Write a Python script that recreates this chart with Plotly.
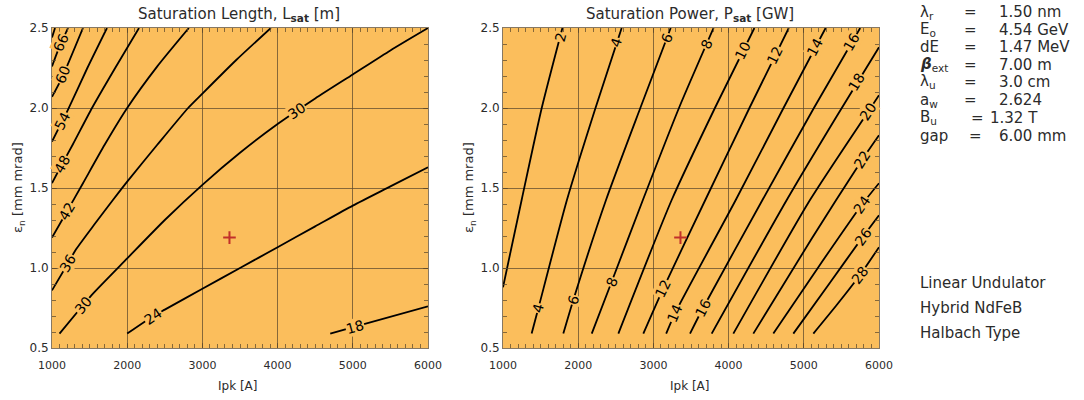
import math
import plotly.graph_objects as go

# ---------------- data ----------------
# Left panel: saturation length contours, Ipk [A] vs normalized emittance [mm mrad]
len72_ipk = [1000, 1040]
len72_emit = [2.44, 2.50]
len66_ipk = [1000, 1080, 1213]
len66_emit = [2.26, 2.36, 2.50]
len60_ipk = [1000, 1129, 1412]
len60_emit = [2.07, 2.185, 2.50]
len54_ipk = [1000, 1106, 1213, 1470, 1731]
len54_emit = [1.79, 1.89, 1.99, 2.25, 2.50]
len48_ipk = [1000, 1106, 1280, 1532, 1840, 2157]
len48_emit = [1.53, 1.625, 1.775, 2.00, 2.25, 2.50]
len42_ipk = [1000, 1195, 1412, 1700, 2000, 2400, 2820]
len42_emit = [1.19, 1.35, 1.53, 1.77, 2.00, 2.26, 2.50]
len36_ipk = [1000, 1213, 1310, 1560, 1810, 2000, 2400, 2810, 3000, 3450, 3910]
len36_emit = [0.86, 1.03, 1.11, 1.27, 1.425, 1.54, 1.77, 2.00, 2.09, 2.30, 2.50]
len30_ipk = [1100, 1417, 1545, 2000, 2500, 3000, 3500, 4000, 4500, 5000, 5500, 6000]
len30_emit = [0.59, 0.77, 0.84, 1.06, 1.30, 1.52, 1.72, 1.90, 2.06, 2.21, 2.36, 2.50]
len24_ipk = [2000, 2348, 2500, 3000, 3500, 4000, 4500, 5000, 5500, 6000]
len24_emit = [0.59, 0.70, 0.74, 0.87, 1.00, 1.13, 1.26, 1.39, 1.51, 1.63]
len18_ipk = [4700, 5029, 6000]
len18_emit = [0.59, 0.633, 0.76]

len_levels = [72, 66, 60, 54, 48, 42, 36, 30, 24, 18]
len_label_text = ["66", "60", "54", "48", "42", "36", "30", "30", "24", "18"]
len_label_ipk = [1125, 1150, 1135, 1135, 1200, 1213, 1417, 4254, 2348, 5029]
len_label_emit = [2.41, 2.21, 1.92, 1.65, 1.355, 1.03, 0.77, 1.98, 0.70, 0.633]

# Right panel: saturation power contours [GW]
pow2_ipk = [1000, 1250, 1515, 1790]
pow2_emit = [0.88, 1.43, 2.00, 2.50]
pow4_ipk = [1381, 1470, 1850, 2230, 2578]
pow4_emit = [0.59, 0.748, 1.425, 2.00, 2.50]
pow6_ipk = [1802, 1935, 2370, 2826, 3230]
pow6_emit = [0.59, 0.80, 1.425, 2.00, 2.50]
pow8_ipk = [2180, 2445, 2860, 3340, 3800]
pow8_emit = [0.59, 0.914, 1.425, 2.00, 2.50]
pow10_ipk = [2534, 3243, 3818, 4343]
pow10_emit = [0.59, 1.425, 2.00, 2.50]
pow12_ipk = [2866, 3132, 3690, 4277, 4800]
pow12_emit = [0.59, 0.873, 1.425, 2.00, 2.50]
pow14_ipk = [3170, 3287, 4095, 4730, 5290]
pow14_emit = [0.59, 0.717, 1.425, 2.00, 2.50]
pow16_ipk = [3487, 3660, 4450, 5134, 5750]
pow16_emit = [0.59, 0.75, 1.425, 2.00, 2.50]
pow18_ipk = [3775, 4773, 5440, 6000]
pow18_emit = [0.59, 1.425, 1.95, 2.38]
pow20_ipk = [4063, 5082, 5860, 6000]
pow20_emit = [0.59, 1.425, 1.98, 2.08]
pow22_ipk = [4329, 5100, 5780, 6000]
pow22_emit = [0.59, 1.18, 1.68, 1.83]
pow24_ipk = [4595, 5200, 5769, 6000]
pow24_emit = [0.59, 1.01, 1.394, 1.53]
pow26_ipk = [4861, 5350, 5787, 6000]
pow26_emit = [0.59, 0.91, 1.196, 1.33]
pow28_ipk = [5127, 5440, 5747, 6000]
pow28_emit = [0.59, 0.77, 0.956, 1.13]

pow_levels = [2, 4, 6, 8, 10, 12, 14, 16, 18, 20, 22, 24, 26, 28]
pow_label_text = ["2", "4", "4", "6", "6", "8", "8", "10", "12", "12", "14", "14",
                  "16", "16", "18", "20", "22", "24", "26", "28"]
pow_label_ipk = [1758, 1470, 2512, 1935, 3177, 2445, 3709, 4196, 3132, 4617, 3287, 5149,
                 3660, 5637, 5703, 5860, 5780, 5769, 5787, 5747]
pow_label_emit = [2.44, 0.748, 2.41, 0.80, 2.44, 0.914, 2.40, 2.36, 0.873, 2.33, 0.717, 2.38,
                  0.75, 2.41, 2.16, 1.98, 1.68, 1.394, 1.196, 0.956]

design_ipk = [3360]
design_emit = [1.19]

x_ticks = [1000, 2000, 3000, 4000, 5000, 6000]
y_ticks = [0.5, 1.0, 1.5, 2.0, 2.5]

param_names = ["λ<sub>r</sub>", "E<sub>o</sub>", "dE", "<b><i>β</i></b><sub>ext</sub>",
               "λ<sub>u</sub>", "a<sub>w</sub>", "B<sub>u</sub>", "gap"]
param_values = ["1.50 nm", "4.54 GeV", "1.47 MeV", "7.00 m", "3.0 cm", "2.624", "1.32 T", "6.00 mm"]
notes = ["Linear Undulator", "Hybrid NdFeB", "Halbach Type"]

# ---------------- layout geometry ----------------
W, H = 1084, 400
L_X0, L_X1 = 52, 428
R_X0, R_X1 = 503, 879
P_Y0, P_Y1 = 28, 348
ORANGE = "#FBBE5C"
GRID = "rgba(95,75,45,0.75)"
FONT = "DejaVu Sans"
TXT = "#2b2b2b"

len_ipk_lines = [len72_ipk, len66_ipk, len60_ipk, len54_ipk, len48_ipk, len42_ipk,
                 len36_ipk, len30_ipk, len24_ipk, len18_ipk]
len_emit_lines = [len72_emit, len66_emit, len60_emit, len54_emit, len48_emit, len42_emit,
                  len36_emit, len30_emit, len24_emit, len18_emit]
pow_ipk_lines = [pow2_ipk, pow4_ipk, pow6_ipk, pow8_ipk, pow10_ipk, pow12_ipk, pow14_ipk,
                 pow16_ipk, pow18_ipk, pow20_ipk, pow22_ipk, pow24_ipk, pow26_ipk, pow28_ipk]
pow_emit_lines = [pow2_emit, pow4_emit, pow6_emit, pow8_emit, pow10_emit, pow12_emit, pow14_emit,
                  pow16_emit, pow18_emit, pow20_emit, pow22_emit, pow24_emit, pow26_emit, pow28_emit]

SX = (L_X1 - L_X0) / 5000.0
SY = (P_Y1 - P_Y0) / 2.0


def label_angle(xs, ys, lx, ly):
    best, ang = None, 0.0
    px, py = (lx - 1000) * SX, (ly - 0.5) * SY
    for i in range(len(xs) - 1):
        x0, y0 = (xs[i] - 1000) * SX, (ys[i] - 0.5) * SY
        x1, y1 = (xs[i + 1] - 1000) * SX, (ys[i + 1] - 0.5) * SY
        dx, dy = x1 - x0, y1 - y0
        L2 = dx * dx + dy * dy
        t = max(0.0, min(1.0, ((px - x0) * dx + (py - y0) * dy) / L2)) if L2 else 0.0
        d = math.hypot(px - (x0 + t * dx), py - (y0 + t * dy))
        if best is None or d < best:
            best, ang = d, -math.degrees(math.atan2(dy, dx))
    return ang


fig = go.Figure()
annotations = []

for xs, ys in zip(len_ipk_lines, len_emit_lines):
    fig.add_trace(go.Scatter(x=xs, y=ys, mode="lines", line=dict(color="black", width=1.8,
                  shape="spline", smoothing=0.6), xaxis="x", yaxis="y", showlegend=False,
                  hoverinfo="skip"))
for xs, ys in zip(pow_ipk_lines, pow_emit_lines):
    fig.add_trace(go.Scatter(x=xs, y=ys, mode="lines", line=dict(color="black", width=1.8,
                  shape="spline", smoothing=0.6), xaxis="x2", yaxis="y2", showlegend=False,
                  hoverinfo="skip"))

for xa, ya in (("x", "y"), ("x2", "y2")):
    fig.add_trace(go.Scatter(x=design_ipk, y=design_emit, mode="markers", xaxis=xa, yaxis=ya,
                             marker=dict(symbol="cross-thin", size=9,
                                         line=dict(color="#C2302A", width=2)),
                             showlegend=False, hoverinfo="skip"))

for t, lx, ly in zip(len_label_text, len_label_ipk, len_label_emit):
    k = len_levels.index(int(t))
    annotations.append(dict(x=lx, y=ly, xref="x", yref="y", text=t, showarrow=False,
                            textangle=label_angle(len_ipk_lines[k], len_emit_lines[k], lx, ly),
                            font=dict(family=FONT, size=14, color="black"),
                            bgcolor=ORANGE, borderpad=0))
for t, lx, ly in zip(pow_label_text, pow_label_ipk, pow_label_emit):
    k = pow_levels.index(int(t))
    annotations.append(dict(x=lx, y=ly, xref="x2", yref="y2", text=t, showarrow=False,
                            textangle=label_angle(pow_ipk_lines[k], pow_emit_lines[k], lx, ly),
                            font=dict(family=FONT, size=14, color="black"),
                            bgcolor=ORANGE, borderpad=0))


def px2paper(px, py):
    return px / W, 1 - py / H


# titles
for cx, txt in ((239, "Saturation Length, L<sub><b>sat</b></sub> [m]"),
                (690, "Saturation Power, P<sub><b>sat</b></sub> [GW]")):
    x, y = px2paper(cx, 15)
    annotations.append(dict(x=x, y=y, xref="paper", yref="paper", text=txt, showarrow=False,
                            xanchor="center", yanchor="middle",
                            font=dict(family=FONT, size=15, color=TXT)))
# axis titles
for cx in (238, 690):
    x, y = px2paper(cx, 386)
    annotations.append(dict(x=x, y=y, xref="paper", yref="paper", text="Ipk [A]", showarrow=False,
                            xanchor="center", yanchor="middle",
                            font=dict(family=FONT, size=12, color=TXT)))
for cx in (18, 469):
    x, y = px2paper(cx, 188)
    annotations.append(dict(x=x, y=y, xref="paper", yref="paper",
                            text="ε<sub>n</sub> [mm mrad]", showarrow=False, textangle=-90,
                            xanchor="center", yanchor="middle",
                            font=dict(family=FONT, size=13, color=TXT)))

# parameter block
row_y = [12, 30, 47, 65, 82, 100, 118, 136]
for i, (nm, val) in enumerate(zip(param_names, param_values)):
    eq_x = 977 if nm.startswith("B") else (975 if nm == "gap" else 970)
    val_x = 988 if nm.startswith("B") else 997
    for px, txt, anc in ((918, nm, "left"), (eq_x, "=", "center"), (val_x, val, "left")):
        x, y = px2paper(px, row_y[i])
        annotations.append(dict(x=x, y=y, xref="paper", yref="paper", text=txt, showarrow=False,
                                xanchor=anc, yanchor="middle",
                                font=dict(family=FONT, size=15, color=TXT)))
for i, txt in enumerate(notes):
    x, y = px2paper(918, 283 + 25 * i)
    annotations.append(dict(x=x, y=y, xref="paper", yref="paper", text=txt, showarrow=False,
                            xanchor="left", yanchor="middle",
                            font=dict(family=FONT, size=15, color=TXT)))

ydom = [1 - P_Y1 / H, 1 - P_Y0 / H]


def xaxis(dom, anchor):
    return dict(domain=dom, anchor=anchor, range=[1000, 6000], tickvals=x_ticks,
                showgrid=True, gridcolor=GRID, gridwidth=1, zeroline=False,
                showline=True, linecolor=GRID, linewidth=1, mirror="allticks",
                ticks="inside", ticklen=5, tickcolor=GRID,
                minor=dict(dtick=100, ticks="inside", ticklen=4, tickcolor=GRID, showgrid=False),
                tickfont=dict(family=FONT, size=11, color=TXT), ticklabelstandoff=7,
                automargin=False, fixedrange=True)


def yaxis(anchor):
    return dict(domain=ydom, anchor=anchor, range=[0.5, 2.5], tickvals=y_ticks, tickformat=".1f",
                showgrid=True, gridcolor=GRID, gridwidth=1, zeroline=False,
                showline=True, linecolor=GRID, linewidth=1, mirror="allticks",
                ticks="inside", ticklen=5, tickcolor=GRID,
                minor=dict(dtick=0.1, ticks="inside", ticklen=4, tickcolor=GRID, showgrid=False),
                tickfont=dict(family=FONT, size=12, color=TXT),
                automargin=False, fixedrange=True)


fig.update_layout(
    width=W, height=H, margin=dict(l=0, r=0, t=0, b=0),
    paper_bgcolor="white", plot_bgcolor=ORANGE,
    xaxis=xaxis([L_X0 / W, L_X1 / W], "y"),
    yaxis=yaxis("x"),
    xaxis2=xaxis([R_X0 / W, R_X1 / W], "y2"),
    yaxis2=yaxis("x2"),
    annotations=annotations,
    showlegend=False,
)

fig.write_html("out.html")
